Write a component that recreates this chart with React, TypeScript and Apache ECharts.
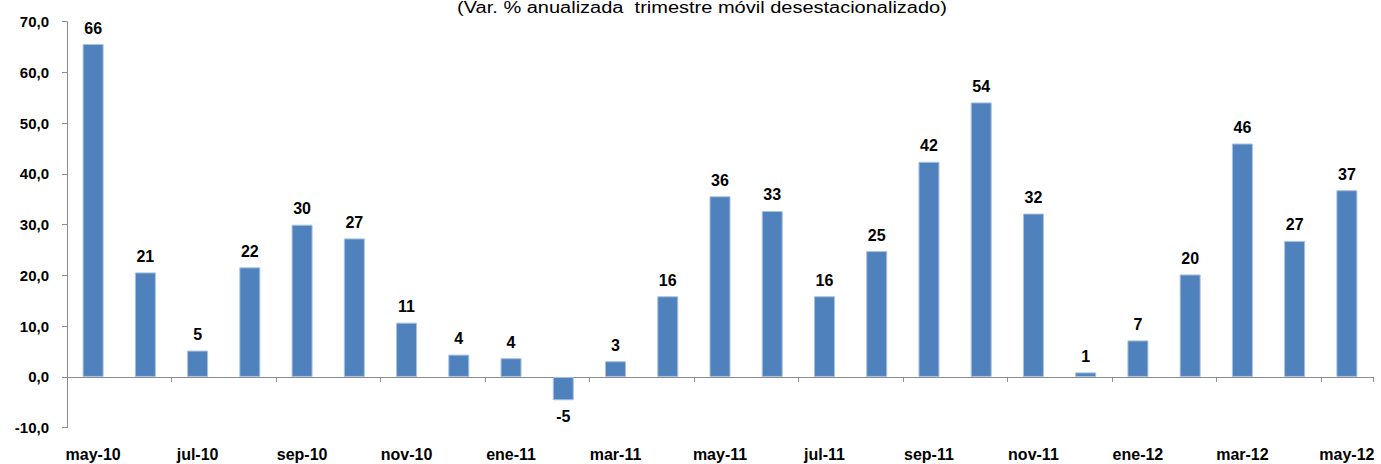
import React, { useEffect, useRef } from "react";
import * as echarts from "echarts";

const categories = [
  "may-10", "jun-10", "jul-10", "ago-10", "sep-10", "oct-10", "nov-10", "dic-10",
  "ene-11", "feb-11", "mar-11", "abr-11", "may-11", "jun-11", "jul-11", "ago-11",
  "sep-11", "oct-11", "nov-11", "dic-11", "ene-12", "feb-12", "mar-12", "abr-12", "may-12",
];
const values = [
  65.6, 20.6, 5.2, 21.6, 30.0, 27.3, 10.7, 4.4,
  3.7, -4.6, 3.1, 15.9, 35.6, 32.7, 15.9, 24.8,
  42.4, 54.1, 32.2, 0.9, 7.2, 20.2, 46.0, 26.8, 36.8,
];
const yTicks = { min: -10, max: 70, interval: 10 };
const subtitle = "(Var. % anualizada  trimestre móvil desestacionalizado)";

const FONT = "'Liberation Sans', Arial, sans-serif";

export default function App() {
  const ref = useRef<HTMLDivElement>(null);
  useEffect(() => {
    if (!ref.current) return;
    const chart = echarts.init(ref.current, undefined, { renderer: "svg" });
    chart.setOption({
      animation: false,
      backgroundColor: "#ffffff",
      textStyle: { fontFamily: FONT },
      graphic: [
        {
          type: "text",
          x: 702,
          y: 8,
          scaleX: 1.25,
          style: {
            text: subtitle,
            font: `16px ${FONT}`,
            fill: "#000",
            textAlign: "center",
            textVerticalAlign: "middle",
          },
        },
      ],
      grid: {
        left: 67,
        right: 8,
        top: 21.7,
        bottom: 36.3,
        containLabel: false,
        outerBoundsMode: "none",
      },
      xAxis: {
        type: "category",
        data: categories,
        axisLine: { onZero: true, lineStyle: { color: "#8c8c8c", width: 1 } },
        axisTick: { show: true, interval: 1, length: 5, lineStyle: { color: "#8c8c8c" } },
        axisLabel: {
          interval: 1,
          margin: 19,
          color: "#000",
          fontWeight: "bold",
          fontSize: 16,
          fontFamily: FONT,
        },
        splitLine: { show: false },
      },
      yAxis: {
        type: "value",
        min: yTicks.min,
        max: yTicks.max,
        interval: yTicks.interval,
        axisLine: { show: true, lineStyle: { color: "#8c8c8c", width: 1 } },
        axisTick: { show: true, length: 5, lineStyle: { color: "#8c8c8c" } },
        axisLabel: {
          margin: 18,
          color: "#000",
          fontWeight: "bold",
          fontSize: 15,
          fontFamily: FONT,
          formatter: (v: number) => v.toFixed(1).replace(".", ","),
        },
        splitLine: { show: false },
      },
      series: [
        {
          type: "bar",
          barWidth: 21,
          data: values.map((v) => ({
            value: v,
            label: { position: v < 0 ? "bottom" : "top" },
          })),
          itemStyle: { color: "#4F81BD", borderColor: "#A7C2E3", borderWidth: 1 },
          label: {
            show: true,
            distance: 8,
            color: "#000",
            fontWeight: "bold",
            fontSize: 16,
            fontFamily: FONT,
            formatter: (p: any) => String(Math.round(p.value)),
          },
        },
      ],
    });
    return () => chart.dispose();
  }, []);
  return (
    <div
      ref={ref}
      style={{ position: "fixed", left: 0, top: 0, width: 1381, height: 464, background: "#fff" }}
    />
  );
}
